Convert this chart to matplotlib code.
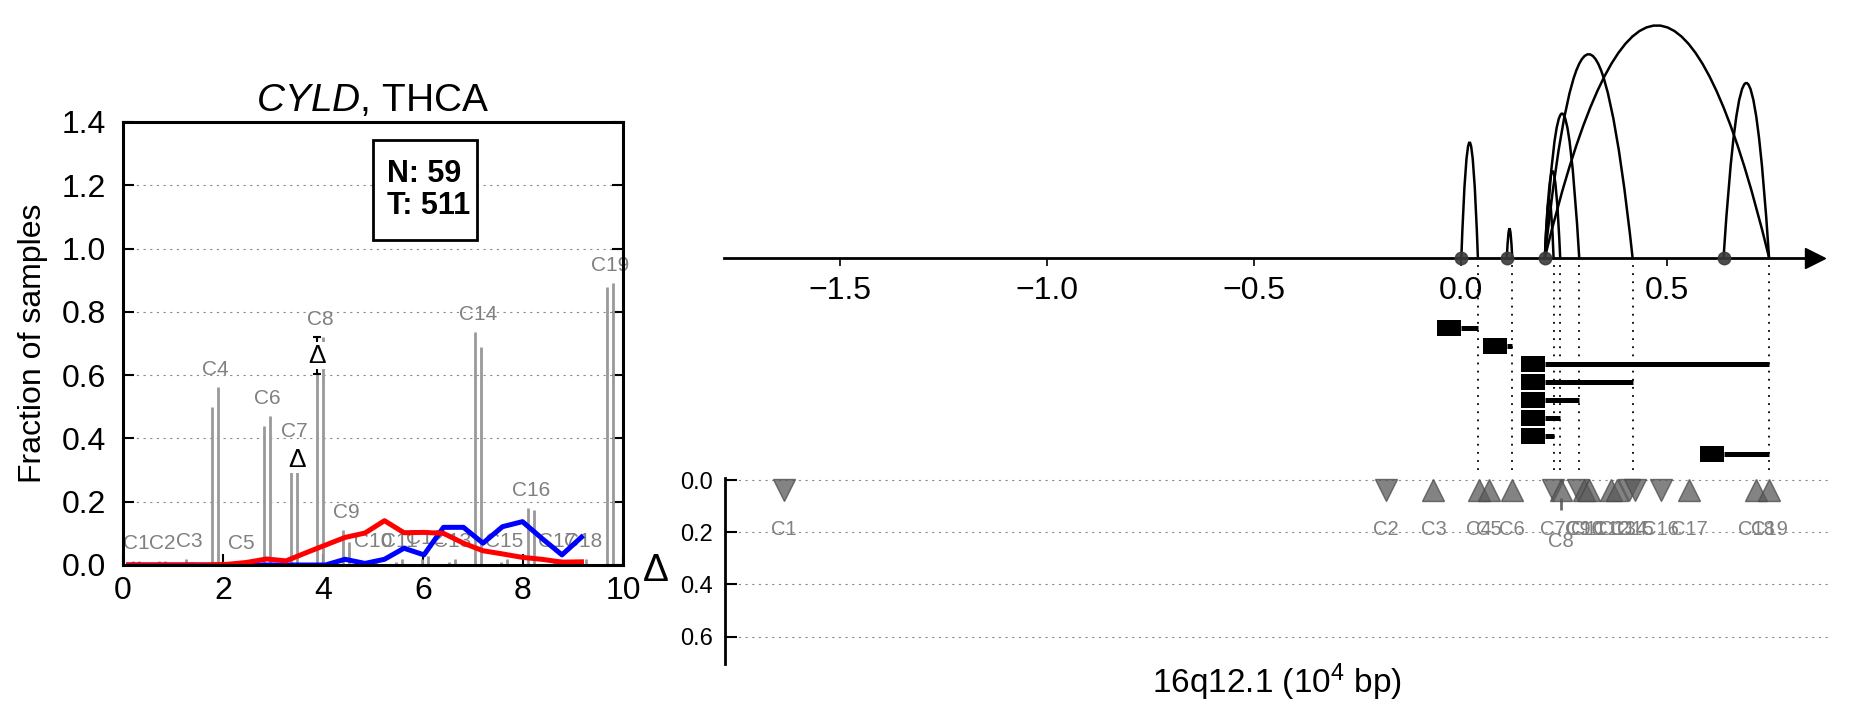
import matplotlib
matplotlib.use("Agg")
import matplotlib.pyplot as plt
from matplotlib.path import Path
from matplotlib.patches import PathPatch, Rectangle

plt.rcParams['font.family'] = ['Liberation Sans', 'DejaVu Sans']
plt.rcParams['mathtext.fontset'] = 'custom'
plt.rcParams['mathtext.rm'] = 'Liberation Sans'
plt.rcParams['mathtext.it'] = 'Liberation Sans:italic'

# ---------------- data: left panel ----------------
exons = ['C1', 'C2', 'C3', 'C4', 'C5', 'C6', 'C7', 'C8', 'C9', 'C10',
         'C11', 'C12', 'C13', 'C14', 'C15', 'C16', 'C17', 'C18', 'C19']
exon_pos = [0.26, 0.79, 1.32, 1.84, 2.37, 2.89, 3.42, 3.95, 4.47, 5.00,
            5.53, 6.05, 6.58, 7.11, 7.63, 8.16, 8.68, 9.21, 9.74]
frac_normal = [0.012, 0.012, 0.02, 0.50, 0.012, 0.44, 0.366, 0.603, 0.11, 0.01,
               0.01, 0.02, 0.01, 0.737, 0.01, 0.179, 0.01, 0.01, 0.878]
frac_tumor = [0.012, 0.012, 0.01, 0.562, 0.012, 0.471, 0.298, 0.72, 0.074, 0.02,
              0.02, 0.03, 0.02, 0.69, 0.02, 0.175, 0.02, 0.02, 0.892]
delta_exons = ['C7', 'C8']
n_normal = 59
n_tumor = 511

curve_x = [0.11, 0.50, 0.90, 1.29, 1.69, 2.08, 2.47, 2.87, 3.26, 3.65, 4.05, 4.44,
           4.84, 5.23, 5.62, 6.02, 6.41, 6.81, 7.20, 7.59, 7.99, 8.38, 8.78, 9.17]
curve_red = [0.0, 0.0, 0.0, 0.0, 0.0, 0.002, 0.008, 0.019, 0.013, 0.038, 0.063, 0.087,
             0.101, 0.140, 0.102, 0.103, 0.100, 0.069, 0.045, 0.035, 0.024, 0.018, 0.009, 0.010]
curve_blue = [0.0, 0.0, 0.0, 0.0, 0.0, 0.0, 0.0, 0.0, 0.0, 0.0, 0.0, 0.018,
              0.005, 0.018, 0.053, 0.032, 0.119, 0.119, 0.069, 0.121, 0.137, 0.084, 0.032, 0.088]

# ---------------- data: right panel ----------------
arc_start = [0.002, 0.112, 0.204, 0.204, 0.204, 0.204, 0.204, 0.636]
arc_end = [0.042, 0.125, 0.746, 0.416, 0.287, 0.241, 0.225, 0.746]
arc_height = [6.4, 1.6, 12.9, 11.3, 8.0, 4.8, 3.2, 9.7]

delta_pos = [-1.639, -0.183, -0.068, 0.041, 0.065, 0.121, 0.221, 0.241, 0.281, 0.296,
             0.307, 0.362, 0.376, 0.404, 0.420, 0.481, 0.551, 0.712, 0.744]
delta_dir = ['v', 'v', '^', '^', '^', '^', 'v', '^', 'v', '^',
             '^', '^', '^', 'v', 'v', 'v', '^', '^', '^']
delta_y = [0.036, 0.036, 0.036, 0.036, 0.036, 0.036, 0.036, 0.036, 0.036, 0.036,
           0.036, 0.036, 0.036, 0.036, 0.036, 0.036, 0.036, 0.036, 0.036]
delta_whisker = {'C8': (0.07, 0.115)}

xmin, xmax = -1.781, 0.886

fig = plt.figure(figsize=(18.51, 7.18), dpi=100)

# ================= left panel =================
ax = fig.add_axes([0.06645, 0.2131, 0.2701, 0.617])
gray = '#999999'
for name, x, fn, ft in zip(exons, exon_pos, frac_normal, frac_tumor):
    ax.vlines([x - 0.06, x + 0.06], 0, [fn, ft], color=gray, lw=2.0, zorder=1)
    ax.text(x, max(fn, ft) + 0.025, name, ha='center', va='bottom',
            fontsize=15, color='#808080', zorder=1)
    if name in delta_exons:
        # marker sits on the shorter bar, bracket up to the taller one
        xs = x - 0.06 if fn < ft else x + 0.06
        lo, hi = min(fn, ft), max(fn, ft)
        ax.errorbar(xs, (lo + hi) / 2, yerr=(hi - lo) / 2, color='black',
                    lw=1.5, capsize=3, capthick=1.5, zorder=3)
        ax.text(xs, (lo + hi) / 2, u'\u0394', ha='center', va='center', fontsize=19,
                zorder=4, bbox=dict(boxstyle='square,pad=0.05', fc='white', ec='none'))

ax.plot(curve_x, curve_blue, color='blue', lw=3.6, zorder=2)
ax.plot(curve_x, curve_red, color='red', lw=3.6, zorder=2)

ax.add_patch(Rectangle((5.0, 1.027), 2.08, 0.316, fc='white', ec='black', lw=2, zorder=5))
ax.text(5.28, 1.185, 'N: %d\nT: %d' % (n_normal, n_tumor), ha='left', va='center',
        fontsize=22, fontweight='bold', linespacing=1.12, zorder=6)

ax.set_xlim(0, 10)
ax.set_ylim(0, 1.4)
ax.set_xticks([0, 2, 4, 6, 8, 10])
ax.set_yticks([0.0, 0.2, 0.4, 0.6, 0.8, 1.0, 1.2, 1.4])
ax.set_yticklabels(['%.1f' % v for v in ax.get_yticks()])
ax.yaxis.grid(True, linestyle=(0, (2, 4)), color='0.55', lw=0.8)
ax.set_axisbelow(True)
ax.tick_params(direction='in', length=8, width=1.5, labelsize=23, right=True, top=False)
ax.tick_params(axis='y', pad=12)
ax.tick_params(axis='x', pad=8)
for s in ax.spines.values():
    s.set_linewidth(2.2)
ax.set_title(r'$\mathit{CYLD}$, THCA', fontsize=28, pad=8)
ax.set_ylabel('Fraction of samples', fontsize=23, va='center')
ax.yaxis.set_label_coords(-0.18, 0.5)

# ================= right panel: arcs + number line + bars =================
axt = fig.add_axes([0.3911, 0.3315, 0.5959, 0.6685])
axt.set_xlim(xmin, xmax)
axt.set_ylim(-12.36, 14.31)
for side in ['top', 'right', 'left']:
    axt.spines[side].set_visible(False)
axt.spines['bottom'].set_position(('data', 0))
axt.spines['bottom'].set_bounds(xmin, 0.84)
axt.spines['bottom'].set_linewidth(2)
axt.set_yticks([])
axt.set_xticks([-1.5, -1.0, -0.5, 0.0, 0.5])
axt.tick_params(axis='x', direction='out', length=6, width=1.2, labelsize=23, pad=7)
axt.plot([0.857], [0], marker='>', ms=15, color='black', clip_on=False, zorder=6)

for s, e, h in zip(arc_start, arc_end, arc_height):
    verts = [(s, 0), ((s + e) / 2, 2 * h), (e, 0)]
    path = Path(verts, [Path.MOVETO, Path.CURVE3, Path.CURVE3])
    axt.add_patch(PathPatch(path, fc='none', ec='black', lw=1.8, zorder=3))

ends = sorted(set(arc_end))
axt.vlines(ends, -11.8, 0, colors='black', linestyles=(0, (1, 3.5)), lw=1.3, zorder=1)
axt.plot(sorted(set(arc_start)), [0] * len(set(arc_start)), 'o', ms=9,
         color='#3a3a3a', alpha=0.9, zorder=5)

box_len = 0.058
for i, (s, e) in enumerate(zip(arc_start, arc_end)):
    y = -(3.9 + i)
    axt.hlines(y, s, e, color='black', lw=3.6, zorder=4)
    axt.barh(y, box_len, left=s - box_len, height=0.87, color='black', zorder=4)

# ================= right panel: delta track =================
axd = fig.add_axes([0.3917, 0.0752, 0.5959, 0.259])
axd.set_xlim(xmin, xmax)
axd.set_ylim(0.705, -0.008)
for side in ['top', 'right', 'bottom']:
    axd.spines[side].set_visible(False)
axd.spines['left'].set_linewidth(2)
axd.set_xticks([])
axd.set_yticks([0.0, 0.2, 0.4, 0.6])
axd.set_yticklabels(['%.1f' % v for v in [0.0, 0.2, 0.4, 0.6]])
axd.tick_params(axis='y', direction='in', length=8.5, width=1.5, labelsize=17, pad=9)
axd.yaxis.grid(True, linestyle=(0, (2, 4)), color='0.55', lw=0.8)
axd.set_axisbelow(True)

for name, x, d, y in zip(exons, delta_pos, delta_dir, delta_y):
    axd.plot(x, y, marker=d, ms=16, color='#5a5a5a', mec='#4a4a4a', alpha=0.75,
             zorder=3, clip_on=False)
    ly = 0.19
    if name in delta_whisker:
        lo, hi = delta_whisker[name]
        axd.vlines(x, lo, hi, color='#6a6a6a', lw=2, zorder=2)
        ly = 0.237
    axd.text(x, ly, name, ha='center', va='center', fontsize=14.5, color='#808080')

axd.set_ylabel(u'\u0394', fontsize=28, rotation=0, va='center', ha='center')
axd.yaxis.set_label_coords(-0.063, 0.5)
axd.set_xlabel('16q12.1 (10$^4$ bp)', fontsize=24, va='center')
axd.xaxis.set_label_coords(0.5, -0.097)

fig.savefig('out.png', dpi=100)
